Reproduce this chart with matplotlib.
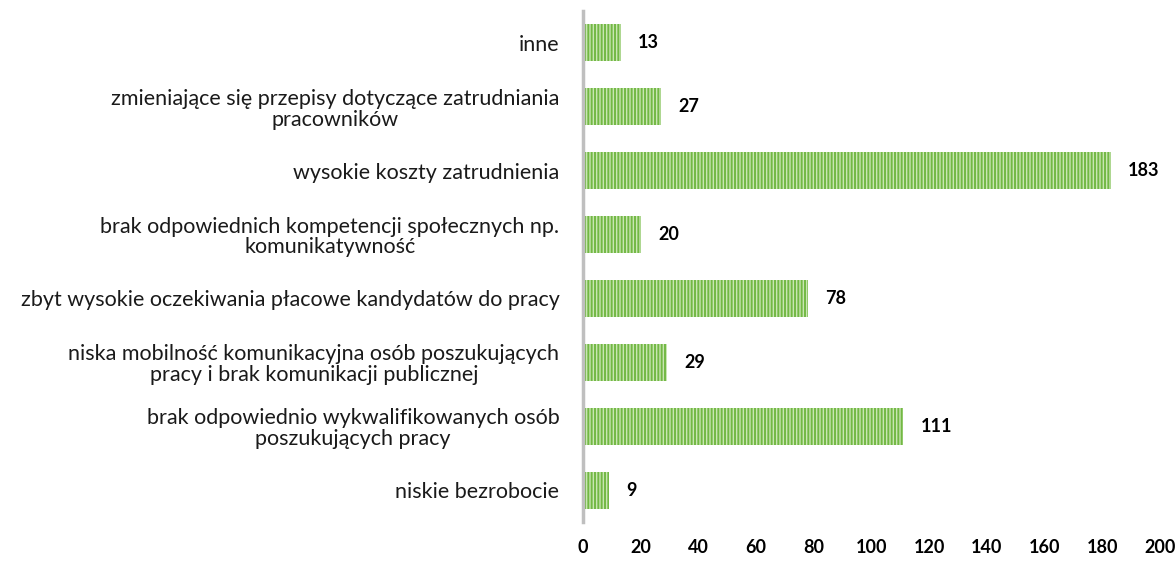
import matplotlib.pyplot as plt
import numpy as np

plt.rcParams['font.family'] = ['Lato', 'DejaVu Sans']
plt.rcParams['hatch.linewidth'] = 1.4

# Data (bottom to top)
categories = [
    'niskie bezrobocie',
    'brak odpowiednio wykwalifikowanych osób\nposzukujących pracy',
    'niska mobilność komunikacyjna osób poszukujących\npracy i brak komunikacji publicznej',
    'zbyt wysokie oczekiwania płacowe kandydatów do pracy',
    'brak odpowiednich kompetencji społecznych np.\nkomunikatywność',
    'wysokie koszty zatrudnienia',
    'zmieniające się przepisy dotyczące zatrudniania\npracowników',
    'inne',
]
values = [9, 111, 29, 78, 20, 183, 27, 13]
xticks = [0, 20, 40, 60, 80, 100, 120, 140, 160, 180, 200]

fig = plt.figure(figsize=(11.76, 5.62), dpi=100)
ax = fig.add_axes([583 / 1176, 1 - 522 / 562, (1160 - 583) / 1176, (522 - 11) / 562])

y = np.arange(len(categories))
ax.barh(y, values, height=0.58, color='#c9e6b3', edgecolor='#72b844',
        hatch='|||||', linewidth=0)

for yi, v in zip(y, values):
    ax.text(v + 6, yi, str(v), va='center', ha='left', fontsize=13,
            fontweight='bold', color='black')

ax.set_xlim(0, 200)
ax.set_ylim(-0.5, len(categories) - 0.5)
ax.set_yticks(y)
ax.set_yticklabels(categories, fontsize=15.5, multialignment='center',
                   color='#1a1a1a', linespacing=1.05)
ax.set_xticks(xticks)
ax.set_xticklabels([str(t) for t in xticks], fontsize=13, fontweight='bold')
ax.tick_params(axis='both', length=0)
ax.tick_params(axis='y', pad=17)
ax.tick_params(axis='x', pad=12)

for s in ['top', 'right', 'bottom']:
    ax.spines[s].set_visible(False)
ax.spines['left'].set_color('#bfbfbf')
ax.spines['left'].set_linewidth(2.5)

fig.savefig('out.png', dpi=100)
